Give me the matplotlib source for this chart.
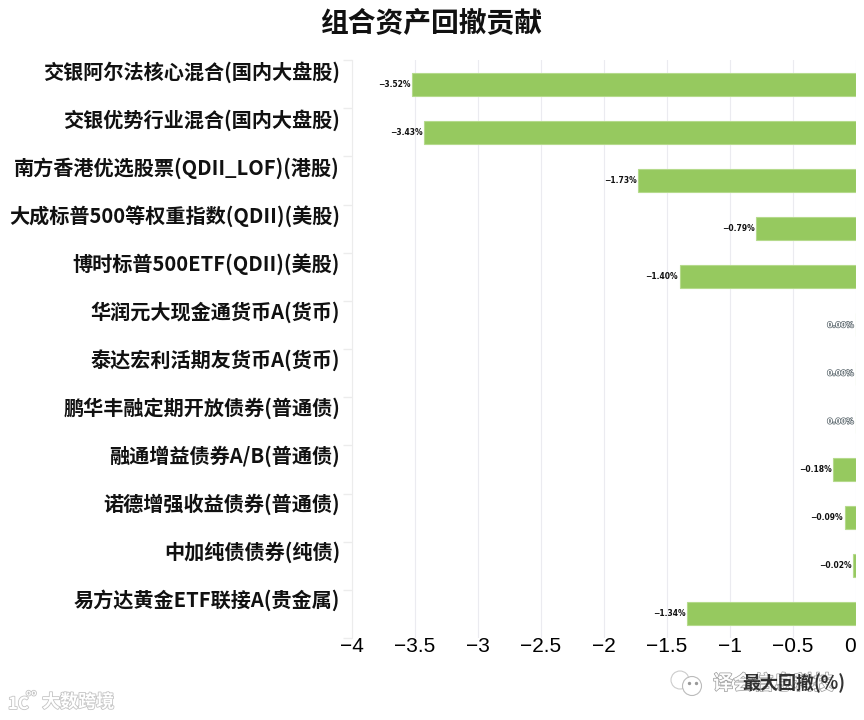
import matplotlib
matplotlib.use("Agg")
import matplotlib.pyplot as plt
import matplotlib.patheffects as pe
from matplotlib.patches import Circle
import numpy as np

plt.rcParams['font.family'] = ['Noto Sans CJK SC', 'DejaVu Sans']

# === Data ===
funds = [
    "交银阿尔法核心混合(国内大盘股)",
    "交银优势行业混合(国内大盘股)",
    "南方香港优选股票(QDII_LOF)(港股)",
    "大成标普500等权重指数(QDII)(美股)",
    "博时标普500ETF(QDII)(美股)",
    "华润元大现金通货币A(货币)",
    "泰达宏利活期友货币A(货币)",
    "鹏华丰融定期开放债券(普通债)",
    "融通增益债券A/B(普通债)",
    "诺德增强收益债券(普通债)",
    "中加纯债债券(纯债)",
    "易方达黄金ETF联接A(贵金属)",
]
drawdown = [-3.52, -3.43, -1.73, -0.79, -1.40, 0.0, 0.0, 0.0, -0.18, -0.09, -0.02, -1.34]
xticks = [-4, -3.5, -3, -2.5, -2, -1.5, -1, -0.5, 0]
xtick_labels = ["−4", "−3.5", "−3", "−2.5", "−2", "−1.5", "−1", "−0.5", "0"]

W, H = 864, 720
fig = plt.figure(figsize=(W / 100, H / 100), dpi=100)
ax = fig.add_axes([352 / W, 1 - 638 / H, 504 / W, 578 / H])

y = np.arange(len(funds))
ax.barh(y, drawdown, height=0.48, color="#96c95f", edgecolor="#b5da8c", linewidth=0.8, zorder=3)
ax.set_xlim(-4, 0)
ax.set_ylim(len(funds) - 0.5, -0.5)

ax.set_xticks(xticks)
ax.set_xticklabels(xtick_labels, fontsize=15, family=['Liberation Sans', 'DejaVu Sans'])
ax.get_xticklabels()[-1].set_ha('right')
ax.tick_params(axis='x', length=0, pad=-1)
ax.set_yticks(np.arange(len(funds) + 1) - 0.5)
ax.set_yticklabels([])
ax.tick_params(axis='y', length=6.5, width=1, color="#ececec", direction='out')
ax.grid(axis='x', color="#ebebf0", linewidth=0.8, zorder=0)
for s in ['top', 'right', 'bottom']:
    ax.spines[s].set_visible(False)
ax.spines['left'].set_color("#ececec")

# category labels sit on the band edge, a bit above each bar
for i, name in enumerate(funds):
    fig.text(340 / W, 1 - (72.5 + i * 48.0) / H, name, ha='right', va='center',
             fontsize=14.5, fontweight='bold', color="#111111")

# value labels
for i, v in enumerate(drawdown):
    if v == 0:
        ax.text(-0.02, i, "0.00%", ha='right', va='center', fontsize=5.5,
                fontweight='bold', family='DejaVu Sans', color="#ffffff", zorder=4,
                path_effects=[pe.withStroke(linewidth=1, foreground="#5a666c")])
    else:
        ax.text(v - 0.012, i, f"{v:.2f}%".replace("-", "−"), ha='right', va='center',
                fontsize=5.5, fontweight='bold', family='DejaVu Sans', color="#111111", zorder=4)

fig.text(431 / W, 1 - 24 / H, "组合资产回撤贡献", ha='center', va='center',
         fontsize=20, fontweight='bold', color="#111111")

# axis title with the account watermark printed over it, as in the reference
fig.text(713 / W, 1 - 683 / H, "译会信息科技", ha='left', va='center', fontsize=14.5,
         fontweight='bold', color="#ffffff", alpha=0.9, zorder=2,
         path_effects=[pe.withStroke(linewidth=0.9, foreground="#8a8a8a")])
fig.text(845 / W, 1 - 683 / H, "最大回撤(%)", ha='right', va='center', fontsize=13,
         fontweight='bold', color="#111111", alpha=0.85, zorder=3)

# wechat style mark
bg = fig.add_axes([0, 0, 1, 1], facecolor='none')
bg.set_xlim(0, W)
bg.set_ylim(H, 0)
bg.axis('off')
bg.add_patch(Circle((680, 680), 9, fc='white', ec="#cccccc", lw=0.8))
bg.add_patch(Circle((692, 686), 9.5, fc='white', ec="#bbbbbb", lw=0.8))
bg.scatter([689, 696], [683, 683], s=2, color="#999999")

# lower left site watermark
outline = [pe.withStroke(linewidth=1.2, foreground="#c4c4c4")]
fig.text(8 / W, 1 - 704 / H, "1C", ha='left', va='center', fontsize=12, color="#ffffff",
         fontweight='bold', path_effects=outline)
fig.text(26 / W, 1 - 693 / H, "oo", ha='left', va='center', fontsize=6, color="#ffffff",
         fontweight='bold', path_effects=outline)
fig.text(42 / W, 1 - 702 / H, "大数跨境", ha='left', va='center', fontsize=13, color="#ffffff",
         fontweight='bold', path_effects=outline)

fig.savefig("out.png", dpi=100, facecolor='white')
